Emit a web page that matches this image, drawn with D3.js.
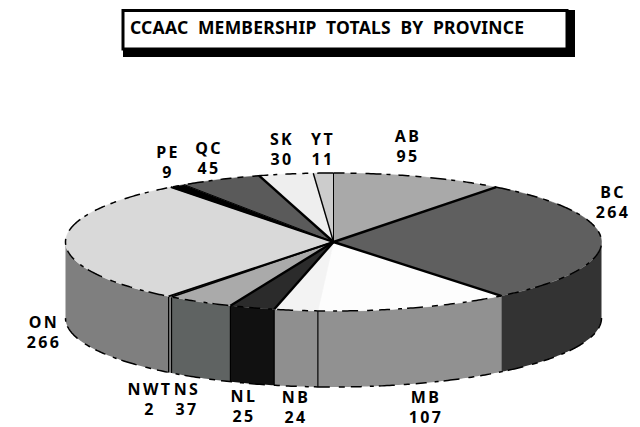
<!DOCTYPE html>
<html>
<head>
<meta charset="utf-8">
<script src="https://cdn.jsdelivr.net/npm/d3@7"></script>
<style>
  html, body { margin: 0; padding: 0; background: #fff; }
  svg { display: block; }
  text { font-family: "Noto Sans", sans-serif; font-weight: 700; fill: #000; }
</style>
</head>
<body>
<div id="chart"></div>
<script>
// values, clockwise from 12 o'clock
const provinces = ["AB", "BC", "MB", "NB", "NL", "NS", "NWT", "ON", "PE", "QC", "SK", "YT"];
const members = [95, 264, 107, 24, 25, 37, 2, 266, 9, 45, 30, 11];

const topColors = ["#a9a9a9", "#5f5f5f", "#fdfdfd", "#f3f3f3", "#2b2b2b", "#aaaaaa",
                   "#d0d0d0", "#d9d9d9", "#000000", "#5a5a5a", "#eeeeee", "#cccccc"];
const sideColors = ["#888888", "#333333", "#919191", "#8f8f8f", "#111111", "#5f6362",
                    "#8a8a8a", "#7f7f7f", "#000000", "#444444", "#aaaaaa", "#999999"];
const spokeWidths = [1, 2.4, 2.4, 0, 2.4, 2.4, 1.6, 2, 2, 1, 2.4, 1.4];

// label anchors, [x of the centre, baseline of the first line]
const labelSpots = [[408, 142], [613, 198], [426, 403], [296, 403],
                    [244, 402], [187, 395], [150, 395], [44, 328],
                    [168, 158], [209, 154], [282, 145], [323, 145]];
const labelGap = 20;

const width = 640, height = 427;
const cx = 333.5, cy = 242;
const rx = 268, ry = 69, depth = 76;

const svg = d3.select("#chart").append("svg")
  .attr("width", width)
  .attr("height", height);

// title box with its hard shadow
svg.append("rect").attr("x", 123).attr("y", 10).attr("width", 452).attr("height", 47).attr("fill", "#000");
svg.append("rect").attr("x", 123).attr("y", 10.5).attr("width", 444).attr("height", 38.5)
  .attr("fill", "#fff").attr("stroke", "#000").attr("stroke-width", 3);
svg.append("text")
  .attr("x", 130).attr("y", 34)
  .attr("font-size", 17.5)
  .attr("textLength", 394)
  .attr("xml:space", "preserve")
  .text("CCAAC  MEMBERSHIP  TOTALS  BY  PROVINCE");

const pie = d3.pie().sort(null).value(d => d)(members);

const px = a => cx + rx * Math.sin(a);
const py = a => cy - ry * Math.cos(a);

// walls first: only the part of each slice facing the viewer
const wall = d3.area()
  .x(a => px(a))
  .y0(a => py(a))
  .y1(a => py(a) + depth);

const front = [Math.PI / 2, Math.PI * 1.5];
const walls = svg.append("g");
pie.forEach((s, i) => {
  const a0 = Math.max(s.startAngle, front[0]);
  const a1 = Math.min(s.endAngle, front[1]);
  if (a1 <= a0) return;
  const steps = d3.range(a0, a1, 0.01).concat([a1]);
  walls.append("path").attr("d", wall(steps)).attr("fill", sideColors[i]);
  // thin seam where two walls meet
  if (a0 > front[0] && provinces[i] !== "MB") {
    walls.append("line")
      .attr("x1", px(a0)).attr("x2", px(a0))
      .attr("y1", py(a0)).attr("y2", py(a0) + depth)
      .attr("stroke", "#000").attr("stroke-width", 1.2);
  }
});

// dashed bottom rim of the walls
const rimDash = "11 6 6 9 16 5 4 8";
const bottomRim = d3.line().x(a => px(a)).y(a => py(a) + depth);
svg.append("path")
  .attr("d", bottomRim(d3.range(front[0], front[1], 0.01)))
  .attr("fill", "none")
  .attr("stroke", "#000")
  .attr("stroke-width", 1.5)
  .attr("stroke-dasharray", rimDash);

// top face, drawn as a unit pie and squashed into the ellipse
const arc = d3.arc().innerRadius(0).outerRadius(1);
const topFace = svg.append("g").attr("transform", `translate(${cx},${cy}) scale(${rx},${ry})`);
topFace.selectAll("path")
  .data(pie)
  .enter().append("path")
  .attr("d", arc)
  .attr("fill", (d, i) => topColors[i])
  .attr("stroke", (d, i) => topColors[i])
  .attr("stroke-width", 0.5)
  .attr("vector-effect", "non-scaling-stroke");

// spokes between slices
svg.append("g").selectAll("line")
  .data(pie)
  .enter().append("line")
  .attr("x1", cx).attr("y1", cy)
  .attr("x2", d => px(d.startAngle))
  .attr("y2", d => py(d.startAngle))
  .attr("stroke", "#000")
  .attr("stroke-width", (d, i) => spokeWidths[i]);

// dashed rim round the top face
const topRim = d3.line().x(a => px(a)).y(a => py(a));
svg.append("path")
  .attr("d", topRim(d3.range(0, Math.PI * 2 + 0.01, 0.01)))
  .attr("fill", "none")
  .attr("stroke", "#000")
  .attr("stroke-width", 1.5)
  .attr("stroke-dasharray", rimDash);

// two line labels: province over count, one text element each
const labels = svg.append("g")
  .attr("text-anchor", "middle")
  .attr("font-size", 16)
  .attr("letter-spacing", 2.4);
provinces.forEach((p, i) => {
  const [x, y] = labelSpots[i];
  const label = labels.append("text").attr("x", x).attr("y", y);
  label.append("tspan").attr("x", x).text(p);
  label.append("tspan").attr("x", x).attr("dy", labelGap).text(members[i]);
});
</script>
</body>
</html>
